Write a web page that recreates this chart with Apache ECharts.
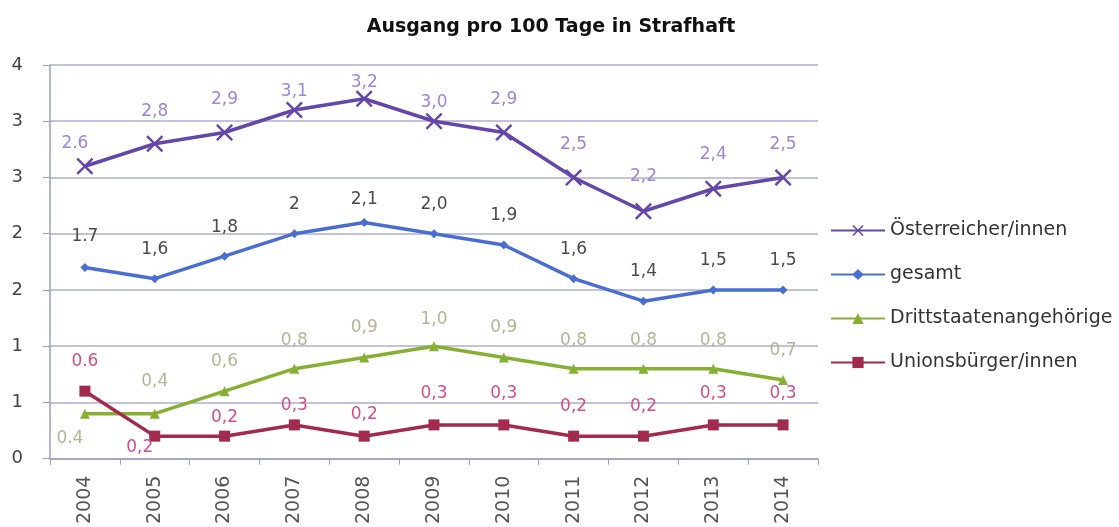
<!DOCTYPE html>
<html>
<head>
<meta charset="utf-8">
<title>Ausgang pro 100 Tage in Strafhaft</title>
<script src="https://cdn.jsdelivr.net/npm/echarts@6/dist/echarts.min.js"></script>
<style>
  html, body { margin: 0; padding: 0; background: #ffffff; }
  #chart { width: 1119px; height: 527px; }
</style>
</head>
<body>
<div id="chart"></div>
<script>
// Years on the category axis
const years = ['2004', '2005', '2006', '2007', '2008', '2009', '2010', '2011', '2012', '2013', '2014'];

// Leaves per 100 days in prison, by group
const oesterreicher = [2.6, 2.8, 2.9, 3.1, 3.2, 3.0, 2.9, 2.5, 2.2, 2.4, 2.5];
const gesamt        = [1.7, 1.6, 1.8, 2.0, 2.1, 2.0, 1.9, 1.6, 1.4, 1.5, 1.5];
const drittstaaten  = [0.4, 0.4, 0.6, 0.8, 0.9, 1.0, 0.9, 0.8, 0.8, 0.8, 0.7];
const unionsbuerger = [0.6, 0.2, 0.2, 0.3, 0.2, 0.3, 0.3, 0.2, 0.2, 0.3, 0.3];

// Value-axis tick labels (shown rounded to whole numbers)
const yTickLabels = ['0', '1', '1', '2', '2', '3', '3', '4'];

// Label placement nudges [dx, dy] relative to each point
const osterNudge  = [[-10,-23],[0,-32],[0,-33],[0,-18],[0,-16],[0,-19],[0,-33],[0,-33],[0,-35],[0,-34],[0,-33]];
const gesamtNudge = [[0,-31],[0,-29],[0,-29],[0,-29],[0,-23],[0,-29],[0,-29],[0,-29],[0,-30],[0,-29],[0,-29]];
const drittNudge  = [[-15,25],[0,-32],[0,-30],[0,-28],[0,-30],[0,-27],[0,-30],[0,-28],[0,-28],[0,-28],[0,-29]];
const unionNudge  = [[0,-30],[-15,11],[0,-19],[0,-19],[0,-22],[0,-31],[0,-31],[0,-30],[0,-30],[0,-31],[0,-31]];

// Label text: one decimal with a comma, the first year with a point
function labelText(v, i, plain) {
  if (plain) return String(Math.round(v));
  const s = v.toFixed(1);
  return i === 0 ? s : s.replace('.', ',');
}

const FONT = 'DejaVu Sans';
const X_MARK = 'path://M0,1L1,0L5,4L9,0L10,1L6,5L10,9L9,10L5,6L1,10L0,9L4,5Z';

function buildSeries(name, values, nudges, cfg) {
  return {
    name: name,
    type: 'line',
    symbol: cfg.symbol,
    symbolSize: cfg.symbolSize,
    lineStyle: { color: cfg.color, width: 3.5 },
    itemStyle: { color: cfg.color },
    z: cfg.z,
    data: values.map(function (v, i) {
      return {
        value: v,
        label: {
          show: true,
          position: 'inside',
          offset: nudges[i],
          color: cfg.labelColor,
          fontFamily: FONT,
          fontSize: 17,
          formatter: labelText(v, i, cfg.plainAt && cfg.plainAt.indexOf(i) >= 0)
        }
      };
    })
  };
}

const chart = echarts.init(document.getElementById('chart'), null, { renderer: 'canvas' });

chart.setOption({
  animation: false,
  backgroundColor: '#ffffff',
  title: {
    text: 'Ausgang pro 100 Tage in Strafhaft',
    left: 546,
    top: 13,
    textAlign: 'center',
    textStyle: { fontFamily: FONT, fontSize: 19, fontWeight: 'bold', color: '#111111' }
  },
  legend: {
    orient: 'vertical',
    left: 825,
    top: 216,
    itemWidth: 54,
    itemHeight: 14,
    itemGap: 25,
    textStyle: { fontFamily: FONT, fontSize: 19, color: '#333333' },
    data: ['Österreicher/innen', 'gesamt', 'Drittstaatenangehörige', 'Unionsbürger/innen']
  },
  grid: { left: 50, right: 301, top: 65, bottom: 67, containLabel: false },
  xAxis: {
    type: 'category',
    data: years,
    boundaryGap: true,
    axisLine: { lineStyle: { color: '#9d9dbf', width: 1.5 } },
    axisTick: { show: true, length: 6, alignWithLabel: false, lineStyle: { color: '#9d9dbf' } },
    axisLabel: { rotate: 90, margin: 17, fontFamily: FONT, fontSize: 19, color: '#555555' }
  },
  yAxis: {
    type: 'value',
    min: 0,
    max: 3.5,
    interval: 0.5,
    axisLine: { show: true, lineStyle: { color: '#9d9dbf', width: 1.5 } },
    axisTick: { show: true, length: 7, lineStyle: { color: '#9d9dbf' } },
    splitLine: { lineStyle: { color: '#aeaecc', width: 1.5 } },
    axisLabel: {
      margin: 27,
      fontFamily: FONT,
      fontSize: 18,
      color: '#444444',
      formatter: function (v) { return yTickLabels[Math.round(v / 0.5)]; }
    }
  },
  series: [
    buildSeries('Österreicher/innen', oesterreicher, osterNudge,
      { color: '#6546a9', labelColor: '#9c86d6', symbol: X_MARK, symbolSize: 17, z: 4 }),
    buildSeries('gesamt', gesamt, gesamtNudge,
      { color: '#4a6dd2', labelColor: '#4a4a4a', symbol: 'diamond', symbolSize: 9, z: 3, plainAt: [3] }),
    buildSeries('Drittstaatenangehörige', drittstaaten, drittNudge,
      { color: '#86b034', labelColor: '#b4b496', symbol: 'triangle', symbolSize: 10, z: 2 }),
    buildSeries('Unionsbürger/innen', unionsbuerger, unionNudge,
      { color: '#a22a4c', labelColor: '#d0508a', symbol: 'rect', symbolSize: 11, z: 5 })
  ]
});
</script>
</body>
</html>
